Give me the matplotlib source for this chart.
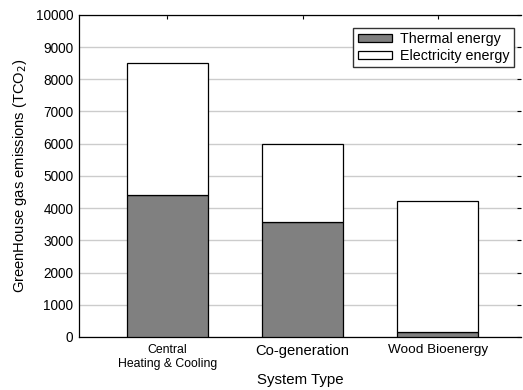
""" GreenHouse gas emissions by system type """

import matplotlib.pyplot as plt
import numpy as np

plt.rcParams["font.family"] = ["Liberation Sans", "DejaVu Sans"]

CATEGORIES = ["Central\nHeating & Cooling", "Co-generation", "Wood Bioenergy"]
THERMAL = [4400, 3560, 150]
ELECTRICITY = [4100, 2440, 4080]
Y_TICKS = [0, 1000, 2000, 3000, 4000, 5000, 6000, 7000, 8000, 9000, 10000]


def plot_data():
    fig = plt.figure(figsize=(5.23, 3.90), dpi=100)
    ax = fig.add_axes([0.151, 0.136, 0.845, 0.826])

    x = np.arange(len(CATEGORIES))
    ax.bar(x, THERMAL, width=0.6, color="#808080", edgecolor="black",
           linewidth=0.9, label="Thermal energy", zorder=3)
    ax.bar(x, ELECTRICITY, width=0.6, bottom=THERMAL, color="white",
           edgecolor="black", linewidth=0.9, label="Electricity energy", zorder=3)

    ax.set_xlim(-0.654, 2.614)
    ax.set_ylim(0, 10000)
    ax.set_yticks(Y_TICKS)
    ax.set_xticks(x)
    ax.set_xticklabels(CATEGORIES)
    for lbl, size in zip(ax.get_xticklabels(), [8.8, 10.6, 9.7]):
        lbl.set_fontsize(size)
    ax.tick_params(axis="y", labelsize=9.8, length=0, pad=4)
    ax.tick_params(axis="x", length=0, pad=5)
    ax.yaxis.grid(True, color="#cccccc", linewidth=1.0, zorder=0)

    # inward ticks on top and right
    ax.tick_params(axis="x", top=True, bottom=False, direction="in", length=3)
    ax.tick_params(axis="y", right=True, left=False, direction="in", length=3)

    for side in ["left", "bottom", "top"]:
        ax.spines[side].set_linewidth(0.9)
    ax.spines["right"].set_visible(False)

    ax.set_xlabel("System Type", fontsize=10.8, labelpad=2.5)
    ax.set_ylabel("GreenHouse gas emissions (TCO$_2$)", fontsize=10.6, labelpad=5)

    ax.legend(loc="upper right", bbox_to_anchor=(0.985, 0.96), fontsize=10.3,
              frameon=True, fancybox=False, edgecolor="#333333",
              framealpha=1, borderpad=0.3, labelspacing=0.22,
              handlelength=2.4, handleheight=0.5, handletextpad=0.6,
              borderaxespad=0.0)

    fig.savefig("out.png", dpi=100)


plot_data()
